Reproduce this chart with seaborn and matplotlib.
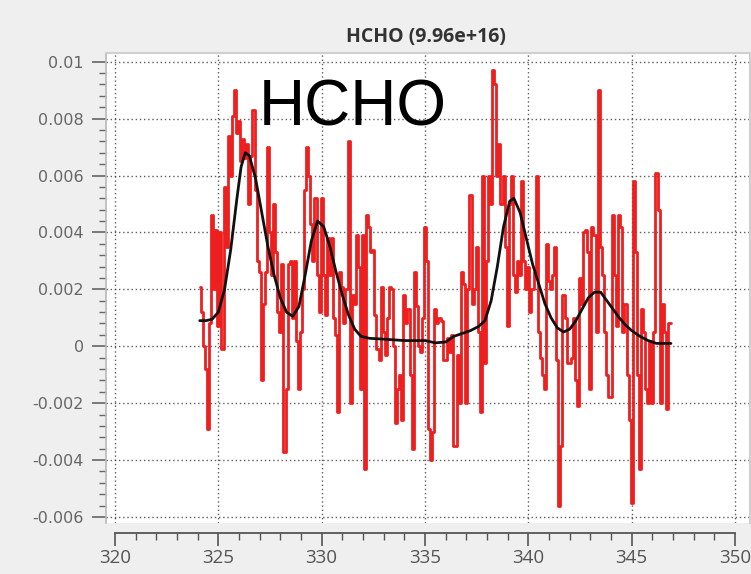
import numpy as np
import pandas as pd
import matplotlib
matplotlib.use("Agg")
import matplotlib.pyplot as plt
from matplotlib.ticker import MultipleLocator, FuncFormatter
import seaborn as sns

# ---- data (values in 1e-3 units), wavelength grid 324.1 .. 346.9 nm, 0.1 nm step
wl_start, wl_step = 324.1, 0.1
measured_e3 = [
    2.1, 1.2, 0.0, -0.8, -2.9, 0.8, 4.6, 2.0, 4.1,            # 324.1-324.9
    0.7, 4.0, -0.1, 5.6, 3.5, 7.4, 6.0, 8.1, 9.0, 7.5,        # 325
    7.9, 6.5, 7.3, 6.6, 7.1, 5.0, 6.7, 8.3, 5.5, 3.0,         # 326
    2.6, -1.2, 1.5, 2.6, 7.0, 4.0, 2.5, 5.0, 3.3, 1.2,        # 327
    0.5, 2.9, -3.7, -1.5, 2.9, 3.0, 1.0, 3.0, 0.2, -1.5,      # 328
    0.5, 2.0, 5.5, 7.0, 6.0, 4.3, 3.0, 5.2, 2.5, 1.2,         # 329
    5.2, 2.5, 1.1, 3.8, 2.5, 3.8, 1.0, 0.4, -2.3, 2.6,        # 330
    2.1, 0.8, 2.0, 7.2, -2.0, 1.8, 1.5, 3.9, 2.8, -1.5,       # 331
    3.9, -4.3, 4.6, 4.2, 3.3, 3.4, 1.1, -0.1, -0.5, 2.1,      # 332
    0.5, -0.3, 1.0, 2.1, 2.0, 0.0, -2.7, -1.5, -1.0, -2.6,    # 333
    1.8, 0.8, 1.3, -1.0, -3.6, 2.6, 1.4, 0.0, -0.2, 1.0,      # 334
    4.2, 3.0, -2.9, -4.0, -3.0, 1.3, 0.8, 1.0, 0.9, -0.5,     # 335
    -0.5, 0.3, -0.2, 0.4, -3.5, -3.5, -0.3, -2.0, 2.6, 2.2,   # 336
    -2.0, 2.0, 5.3, 1.5, 2.0, 3.5, 0.5, -2.3, 6.0, -0.6,      # 337
    3.0, 6.0, 5.0, 9.7, 9.2, 6.0, 7.1, 5.0, 6.0, 3.5,         # 338
    0.7, 5.0, 6.0, 2.5, 1.9, 3.0, 2.5, 5.8, 3.0, 2.0,         # 339
    2.8, 1.2, 2.0, 2.6, 6.0, 0.5, -0.4, -1.0, -1.5, 3.6,      # 340
    2.3, 2.0, 2.5, 3.5, -0.5, -5.6, -3.5, 1.8, 1.0, -0.6,     # 341
    -0.6, -0.4, 1.0, -1.2, -2.1, 2.4, 1.5, 4.0, 4.1, 3.3,     # 342
    -1.5, 4.2, 3.9, 0.5, 9.0, 3.5, 2.5, 0.5, -1.0, -1.8,      # 343
    -1.8, 4.6, 2.5, 0.7, 4.6, 4.2, 0.5, 1.5, -1.0, -2.6,      # 344
    -5.5, 5.8, 3.3, -1.0, -4.3, 1.3, 0.5, -1.5, -2.0, 0.2,    # 345
    -2.0, 0.5, 6.1, 4.8, -2.0, 1.5, 0.5, -2.2, 0.8, 0.8,      # 346
]
fit_wl = [324.1, 324.4, 324.7, 325.0, 325.3, 325.6, 325.9, 326.1, 326.3, 326.5,
          326.8, 327.1, 327.4, 327.7, 328.0, 328.3, 328.6, 328.9, 329.2, 329.5,
          329.8, 330.1, 330.4, 330.7, 331.0, 331.3, 331.6, 331.9, 332.3, 333.0,
          334.0, 335.0, 335.5, 336.0, 336.4, 336.8, 337.2, 337.6, 337.9, 338.2,
          338.5, 338.8, 339.1, 339.3, 339.6, 339.9, 340.2, 340.5, 340.8, 341.1,
          341.4, 341.7, 342.0, 342.3, 342.6, 342.9, 343.2, 343.5, 343.8, 344.1,
          344.4, 344.7, 345.0, 345.4, 345.8, 346.2, 346.9]
fit_e3 = [0.9, 0.9, 0.95, 1.2, 2.0, 3.4, 5.2, 6.3, 6.8, 6.7,
          5.9, 4.7, 3.5, 2.5, 1.7, 1.2, 1.05, 1.4, 2.5, 3.7,
          4.4, 4.2, 3.5, 2.6, 1.8, 1.1, 0.6, 0.35, 0.28, 0.25,
          0.2, 0.2, 0.12, 0.15, 0.35, 0.45, 0.55, 0.7, 0.9, 1.6,
          2.8, 4.2, 5.1, 5.2, 4.7, 3.8, 2.9, 2.2, 1.5, 1.0,
          0.65, 0.5, 0.6, 0.9, 1.3, 1.7, 1.9, 1.9, 1.6, 1.3,
          1.0, 0.75, 0.55, 0.35, 0.2, 0.1, 0.1]

title_text = "HCHO (9.96e+16)"
label_text = "HCHO"

wl = np.round(wl_start + wl_step * np.arange(len(measured_e3)), 2)
df_meas = pd.DataFrame({"wl": wl, "val": np.array(measured_e3) * 1e-3})
df_fit = pd.DataFrame({"wl": fit_wl, "val": np.array(fit_e3) * 1e-3})

sns.set_style("white")
plt.rcParams["font.family"] = ["Open Sans", "DejaVu Sans"]
plt.rcParams["axes.unicode_minus"] = False

W, H = 751, 574
fig = plt.figure(figsize=(W / 100, H / 100), dpi=100, facecolor="#efefef")
left, right, top, bottom = 106, 750, 53, 523
ax = fig.add_axes([left / W, 1 - bottom / H, (right - left) / W, (bottom - top) / H])
ax.set_facecolor("white")

sns.lineplot(data=df_meas, x="wl", y="val", ax=ax, color="#ee1f1f", linewidth=2.0,
             drawstyle="steps-mid", estimator=None, sort=False)
sns.lineplot(data=df_fit, x="wl", y="val", ax=ax, color="#111111", linewidth=2.0,
             estimator=None, sort=False)

px_per_x = (735 - 115) / 30.0
x0 = 320 - (115 - left) / px_per_x
x1 = 350 + (right - 735) / px_per_x
ax.set_xlim(x0, x1)
px_per_y = (517 - 61.7) / 0.016
y_top = 0.01 + (61.7 - top) / px_per_y
y_bot = -0.006 - (bottom - 517) / px_per_y
ax.set_ylim(y_bot, y_top)

ax.xaxis.set_major_locator(MultipleLocator(5))
ax.xaxis.set_minor_locator(MultipleLocator(1))
ax.yaxis.set_major_locator(MultipleLocator(0.002))
ax.yaxis.set_minor_locator(MultipleLocator(0.0004))
ax.yaxis.set_major_formatter(FuncFormatter(lambda v, p: f"{round(v, 6):g}" if abs(v) > 1e-9 else "0"))
ax.xaxis.set_major_formatter(FuncFormatter(lambda v, p: f"{v:.0f}"))

ax.grid(True, which="major", color="#333333", linestyle=(0, (1, 2)), linewidth=1.0, alpha=0.8)
ax.set_xlabel("")
ax.set_ylabel("")

for s in ["top", "right"]:
    ax.spines[s].set_color("#cfcfcf")
    ax.spines[s].set_linewidth(1.5)
ax.spines["left"].set_color("#b8b8b8")
ax.spines["left"].set_linewidth(1.2)
ax.spines["bottom"].set_position(("outward", 7))
ax.spines["bottom"].set_bounds(320, 350)
ax.spines["bottom"].set_color("#555555")
ax.spines["bottom"].set_linewidth(1.3)

ax.tick_params(axis="x", which="major", direction="out", length=9, width=1.2,
               color="#555555", labelsize=13.5, labelcolor="#555555", pad=3, bottom=True)
ax.tick_params(axis="x", which="minor", direction="out", length=5, width=1.0,
               color="#555555", bottom=True)
ax.tick_params(axis="y", which="major", direction="out", length=10, width=1.2,
               color="#666666", labelsize=11.5, labelcolor="#666666", pad=6, left=True)
ax.tick_params(axis="y", which="minor", direction="out", length=5, width=1.0,
               color="#666666", left=True)
for lab in ax.get_yticklabels():
    lab.set_family(["DejaVu Sans"])

ax.text(331.5, 0.00775, label_text, fontsize=46, family=["Liberation Sans", "DejaVu Sans"],
        ha="center", va="baseline", color="black")

fig.text(426 / W, 1 - 37 / H, title_text, ha="center", va="center",
         fontsize=14, fontweight="bold", color="#333333")

fig.savefig("out.png", dpi=100, facecolor=fig.get_facecolor())
